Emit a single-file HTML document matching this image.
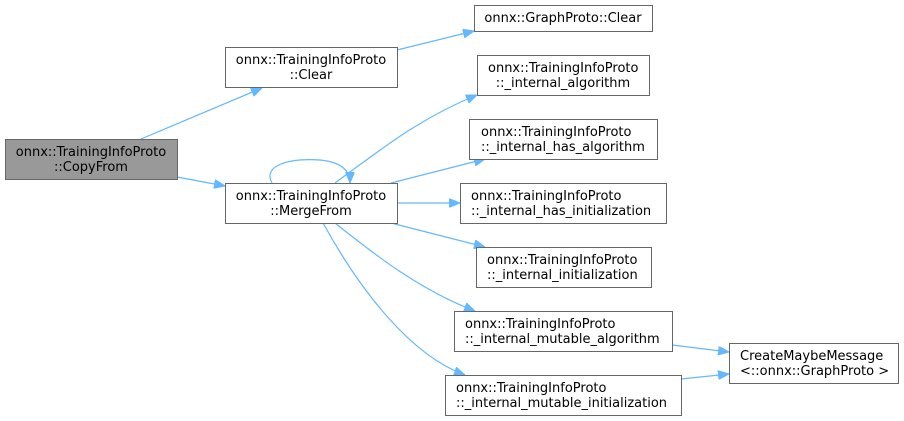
<!DOCTYPE html>
<html><head><meta charset="utf-8"><style>
html,body{margin:0;padding:0;background:#fff;}
svg{display:block;}
text{font-family:"DejaVu Sans","Liberation Sans",sans-serif;font-size:13px;fill:#000;}
.b{fill:#fff;stroke:#666;stroke-width:1;}
.e{fill:none;stroke:#63b8ff;stroke-width:1.2;}
</style></head><body>
<svg width="904" height="421" viewBox="0 0 904 421">
<defs><marker id="a" markerWidth="11" markerHeight="9" refX="11" refY="4.5" orient="auto" markerUnits="userSpaceOnUse"><path d="M0,0 L11,4.5 L0,9 z" fill="#63b8ff" stroke="#63b8ff"/></marker></defs>
<g class="e">
<path d="M141,139 L262,88" marker-end="url(#a)"/>
<path d="M177,177 L225,186" marker-end="url(#a)"/>
<path d="M397,50 L474,31" marker-end="url(#a)"/>
<path d="M272,183 C262,165 290,158 320,160 C340,162 350,170 350,183" marker-end="url(#a)"/>
<path d="M335,183 C380,150 420,118 477,95" marker-end="url(#a)"/>
<path d="M391,183 L485,159" marker-end="url(#a)"/>
<path d="M397,203 L460,203" marker-end="url(#a)"/>
<path d="M391,223 L485,247" marker-end="url(#a)"/>
<path d="M335,223 C375,255 420,290 475,311" marker-end="url(#a)"/>
<path d="M323,223 C360,290 410,355 465,375" marker-end="url(#a)"/>
<path d="M672,345 L729,352" marker-end="url(#a)"/>
<path d="M681,379 L729,374" marker-end="url(#a)"/>
</g>
<rect x="5.5" y="139.5" width="172" height="40" fill="#999" stroke="#666"/>
<text x="91" y="156" text-anchor="middle">onnx::TrainingInfoProto</text><text x="91" y="171" text-anchor="middle">::CopyFrom</text>
<rect class="b" x="225.5" y="47.5" width="172" height="40"/>
<text x="311" y="64" text-anchor="middle">onnx::TrainingInfoProto</text><text x="311" y="79" text-anchor="middle">::Clear</text>
<rect class="b" x="225.5" y="183.5" width="172" height="40"/>
<text x="311" y="200" text-anchor="middle">onnx::TrainingInfoProto</text><text x="311" y="215" text-anchor="middle">::MergeFrom</text>
<rect class="b" x="474.5" y="5.5" width="178" height="26"/>
<text x="563" y="22" text-anchor="middle">onnx::GraphProto::Clear</text>
<rect class="b" x="477.5" y="55.5" width="172" height="40"/>
<text x="488" y="72">onnx::TrainingInfoProto</text><text x="563" y="87" text-anchor="middle">::_internal_algorithm</text>
<rect class="b" x="469.5" y="119.5" width="188" height="40"/>
<text x="481" y="136">onnx::TrainingInfoProto</text><text x="481" y="151">::_internal_has_algorithm</text>
<rect class="b" x="460.5" y="183.5" width="206" height="40"/>
<text x="471" y="200">onnx::TrainingInfoProto</text><text x="471" y="215">::_internal_has_initialization</text>
<rect class="b" x="476.5" y="247.5" width="175" height="40"/>
<text x="487" y="264">onnx::TrainingInfoProto</text><text x="487" y="279">::_internal_initialization</text>
<rect class="b" x="454.5" y="311.5" width="218" height="40"/>
<text x="465" y="328">onnx::TrainingInfoProto</text><text x="465" y="343">::_internal_mutable_algorithm</text>
<rect class="b" x="445.5" y="375.5" width="236" height="40"/>
<text x="456" y="392">onnx::TrainingInfoProto</text><text x="456" y="407">::_internal_mutable_initialization</text>
<rect class="b" x="729.5" y="343.5" width="169" height="40"/>
<text x="740" y="360">CreateMaybeMessage</text><text x="740" y="375">&lt;::onnx::GraphProto &gt;</text>
</svg>
</body></html>
